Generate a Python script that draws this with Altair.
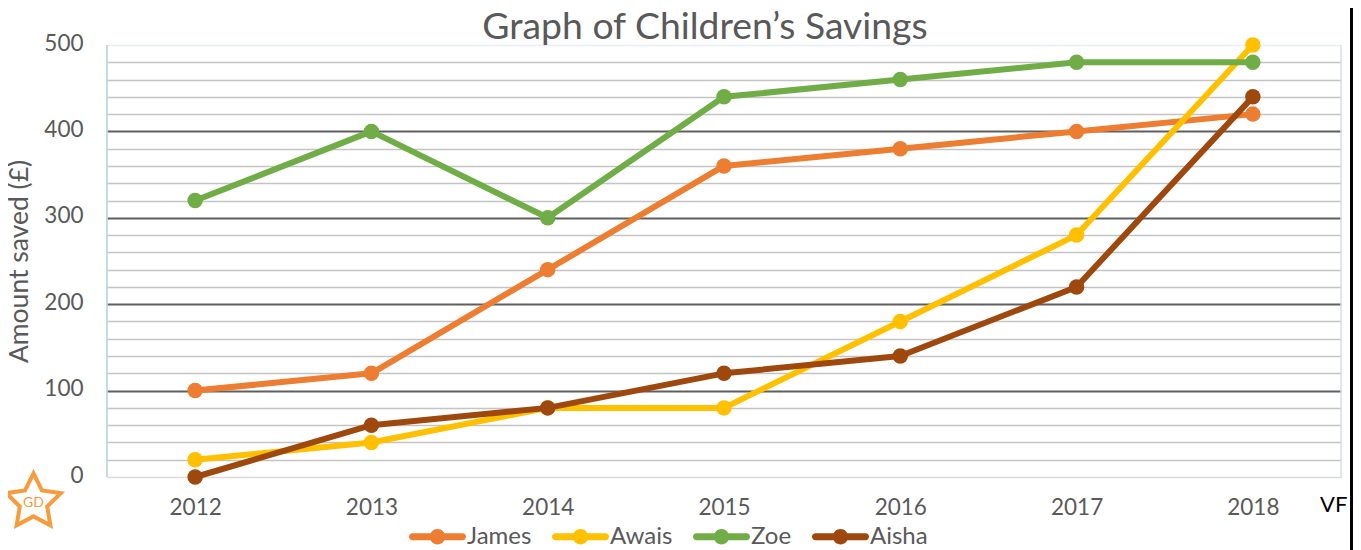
import altair as alt
import pandas as pd

years = ["2012", "2013", "2014", "2015", "2016", "2017", "2018"]
series_names = ["James", "Awais", "Zoe", "Aisha"]
james = [100, 120, 240, 360, 380, 400, 420]
awais = [20, 40, 80, 80, 180, 280, 500]
zoe = [320, 400, 300, 440, 460, 480, 480]
aisha = [0, 60, 80, 120, 140, 220, 440]
colors = ["#ED7D31", "#FFC000", "#70AD47", "#9E480E"]
grid_values = list(range(0, 501, 20))

FONT = "Lato"
GREY = "#595959"
W, H = 1234, 432
LEFT, TOP = 99, 37

rows = []
for name, vals in zip(series_names, [james, awais, zoe, aisha]):
    for yr, v in zip(years, vals):
        rows.append({"year": yr, "series": name, "saved": v})
df = pd.DataFrame(rows)

xenc = alt.X("year:N", sort=years,
             scale=alt.Scale(type="point", padding=0.5),
             axis=alt.Axis(title=None, ticks=False, domain=False, grid=False,
                           labelAngle=0, labelFont=FONT, labelFontSize=22.5,
                           labelColor=GREY, labelPadding=19))
yenc = alt.Y("saved:Q", scale=alt.Scale(domain=[0, 500], nice=False),
             axis=alt.Axis(values=grid_values, ticks=False, domain=False,
                           title="Amount saved (£)", titleFont=FONT, titleFontSize=26.5,
                           titleFontWeight="normal", titleColor=GREY, titlePadding=10,
                           labelFont=FONT, labelFontSize=22.5, labelColor=GREY,
                           labelPadding=24, labelOffset=-2,
                           labelExpr="datum.value % 100 === 0 ? datum.label : ''",
                           gridColor={"condition": [
                               {"test": "datum.value === 500", "value": "#e9edf5"},
                               {"test": "datum.value === 0", "value": "#d9d9d9"},
                               {"test": "datum.value % 100 === 0", "value": "#5f5f5f"}],
                               "value": "#c4c4c4"},
                           gridWidth={"condition": {"test": "datum.value % 100 === 0 && datum.value > 0 && datum.value < 500",
                                                    "value": 2}, "value": 1.5}))
# line-and-dot legend glyph in the unit square of a custom symbol
glyph = ("M-0.88,-0.12H0.88A0.12,0.12 0 0,1 0.88,0.12H-0.88A0.12,0.12 0 0,1 -0.88,-0.12Z"
         "M-0.27,0A0.27,0.27 0 1,1 0.27,0A0.27,0.27 0 1,1 -0.27,0Z")
legend = alt.Legend(title=None, orient="none", legendX=409 - 107, legendY=463,
                    direction="horizontal", columns=4, columnPadding=20,
                    symbolType=glyph, symbolSize=3249, symbolStrokeWidth=0,
                    symbolOpacity=1, labelFont=FONT, labelFontSize=24,
                    labelColor=GREY, labelOffset=1)
color = alt.Color("series:N", sort=series_names,
                  scale=alt.Scale(domain=series_names, range=colors),
                  legend=legend)

layers = []
for name in series_names:
    part = df[df.series == name]
    layers.append(alt.Chart(part).mark_line(strokeWidth=6, strokeCap="round",
                                            strokeJoin="round")
                  .encode(x=xenc, y=yenc, color=color))
    layers.append(alt.Chart(part).mark_point(filled=True, size=240, opacity=1)
                  .encode(x=xenc, y=yenc, color=color))

one = alt.Data(values=[{"k": 0}])
left_edge = alt.Chart(one).mark_rule(color="#b9cbe8", strokeWidth=1.5).encode(
    x=alt.value(0), y=alt.value(0), y2=alt.value(H))
right_edge = alt.Chart(one).mark_rule(color="#d5dff0", strokeWidth=1.5).encode(
    x=alt.value(W), y=alt.value(0), y2=alt.value(H))
frame_line = alt.Chart(one).mark_rule(color="#000000", strokeWidth=3).encode(
    x=alt.value(1351.5 - 107), y=alt.value(-TOP), y2=alt.value(H + 73))
star_path = ("M0,-1L0.294,-0.405L0.951,-0.309L0.476,0.155L0.588,0.809"
             "L0,0.5L-0.588,0.809L-0.476,0.155L-0.951,-0.309L-0.294,-0.405Z")
star = alt.Chart(one).mark_point(shape=star_path, filled=False, size=3300,
                                 stroke="#F79B3C", strokeWidth=4, opacity=1).encode(
    x=alt.value(33.5 - 107), y=alt.value(502 - 45))
star_text = alt.Chart(one).mark_text(text="GD", font=FONT, fontSize=14,
                                     color="#F79B3C").encode(
    x=alt.value(33.5 - 107), y=alt.value(503 - 45))
vf = alt.Chart(one).mark_text(text="VF", font=FONT, fontSize=22, color="#000000",
                              align="left").encode(
    x=alt.value(1320 - 107), y=alt.value(505 - 45))
title = alt.Chart(one).mark_text(text="Graph of Children’s Savings", font=FONT,
                                 fontSize=37.3, color=GREY, align="center",
                                 baseline="alphabetic").encode(
    x=alt.value(705 - 107), y=alt.value(39 - 45))

chart = alt.layer(left_edge, right_edge, frame_line, *layers, star, star_text, vf, title).properties(
    width=W, height=H,
    padding={"left": LEFT, "top": TOP, "right": 12, "bottom": 73},
    autosize=alt.AutoSizeParams(type="none", contains="content"),
).configure_view(stroke=None)

chart.save("out.html", embed_options={"renderer": "svg", "actions": False})
